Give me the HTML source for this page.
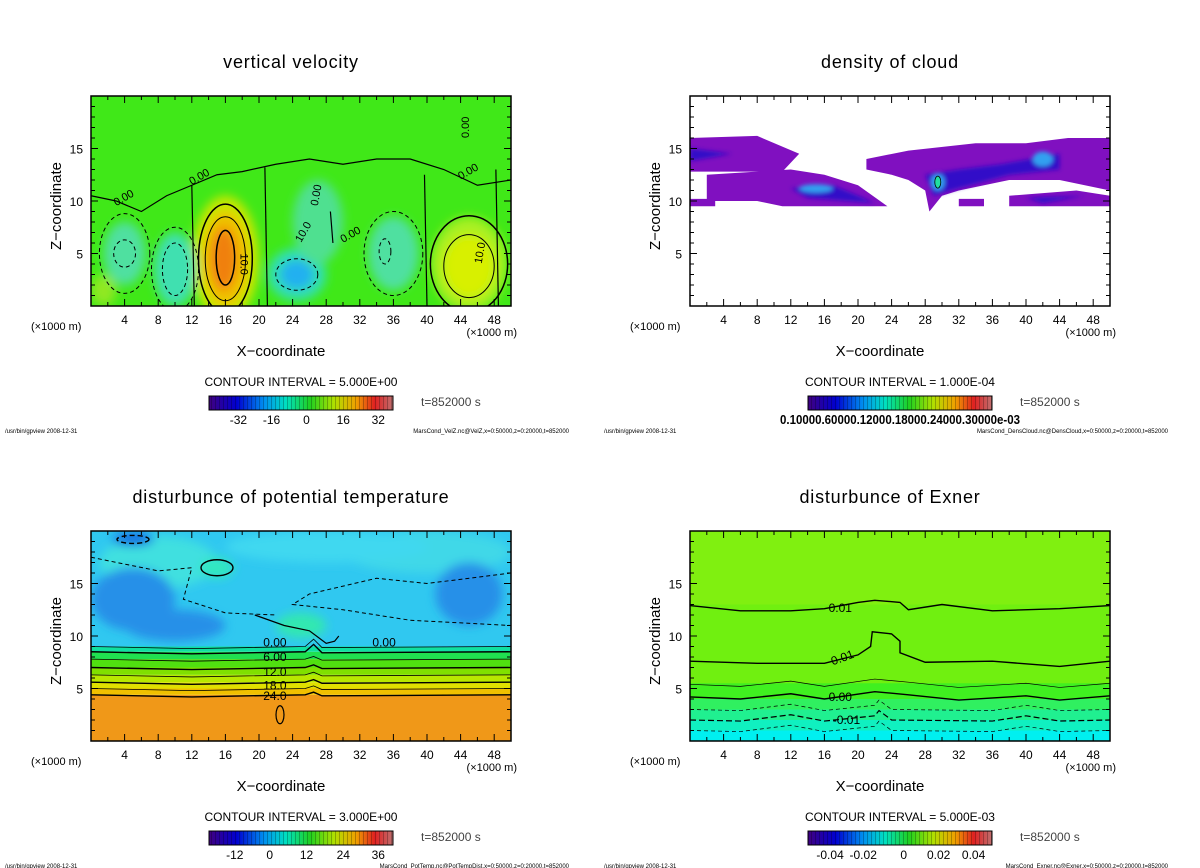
<!DOCTYPE html>
<html><head><meta charset="utf-8">
<style>
body{margin:0;background:#fff;}
svg{display:block;font-family:"Liberation Sans","DejaVu Sans",sans-serif;}
</style></head>
<body>
<svg id="s" width="1200" height="868" viewBox="0 0 1200 868">
<defs>
<filter id="bl" x="-30%" y="-30%" width="160%" height="160%"><feGaussianBlur stdDeviation="5"/></filter>
<filter id="bs" x="-30%" y="-30%" width="160%" height="160%"><feGaussianBlur stdDeviation="2"/></filter>
<linearGradient id="cbar" x1="0" x2="1" y1="0" y2="0">
<stop offset="0" stop-color="#400080"/><stop offset="0.15" stop-color="#0000d0"/><stop offset="0.3" stop-color="#0090f0"/><stop offset="0.42" stop-color="#00e0c0"/><stop offset="0.55" stop-color="#20d020"/><stop offset="0.68" stop-color="#b0e000"/><stop offset="0.8" stop-color="#f0a000"/><stop offset="0.9" stop-color="#e02020"/><stop offset="1" stop-color="#c07070"/>
</linearGradient>
<pattern id="stripe" width="4" height="14" patternUnits="userSpaceOnUse"><rect x="3" width="1" height="14" fill="rgba(0,0,0,0.25)"/></pattern>
</defs>
</svg>
<script>
// ---- data ----
const xTicks=[4,8,12,16,20,24,28,32,36,40,44,48];
const zTicks=[5,10,15];
const titles=["vertical velocity","density of cloud","disturbunce of potential temperature","disturbunce of Exner"];
const intervals=["5.000E+00","1.000E-04","3.000E+00","5.000E-03"];
const cbLabels=[["-32","-16","0","16","32"],["0.10000.60000.12000.18000.24000.30000e-03"],["-12","0","12","24","36"],["-0.04","-0.02","0","0.02","0.04"]];
const cbPos=[[0.16,0.34,0.53,0.73,0.92],[0.5],[0.14,0.33,0.53,0.73,0.92],[0.12,0.3,0.52,0.71,0.9]];
const files=["MarsCond_VelZ.nc@VelZ,x=0:50000,z=0:20000,t=852000","MarsCond_DensCloud.nc@DensCloud,x=0:50000,z=0:20000,t=852000","MarsCond_PotTemp.nc@PotTempDist,x=0:50000,z=0:20000,t=852000","MarsCond_Exner.nc@Exner,x=0:50000,z=0:20000,t=852000"];
const velBlobs=[[16,4.5,4,6,"#c8e800"],[16,4.5,2.8,4.5,"#f0c000"],[15.8,4.5,1.6,3,"#f08010"],[24.5,3,3.5,2.5,"#30e0b0"],[24.5,3,2,1.4,"#20b0f0"],[45,4,4.5,4.5,"#a8f020"],[45,3.8,3,3,"#d8f000"],[4,5,2.5,3,"#50e0a0"],[10,3.5,2.5,3.5,"#40e0b0"],[36,5,3,3.5,"#50e0a0"],[1.5,1.5,1.5,1.5,"#90e820"],[27,8,3,4,"#50e090"]];
const cloudOuter=[[[0,16],[8,16.2],[13,14.5],[11,12.8],[0,12.8]],[[2,12.5],[12,13],[16,12.5],[20,11.5],[23.5,9.5],[11,9.5],[8,10],[2,10]],[[0,10.2],[3,10.2],[3,9.5],[0,9.5]],[[21,14],[26,14.8],[34,15.5],[40,15.5],[45,16],[50,16],[50,11],[44,12],[38,12],[32,11],[30,10.5],[28.5,9],[28,11],[26,12],[24,12.5],[21,13]],[[38,10.5],[46,11],[50,10.5],[50,9.5],[38,9.5]],[[32,10.2],[35,10.2],[35,9.5],[32,9.5]]];
const cloudInner=[[[12,11.2],[17,11.5],[20,10.5],[22,9.8],[14,10.3]],[[28,12.5],[32,13],[37,13.5],[44,14.5],[44,13],[38,12.5],[31,11],[29,10.5]],[[0,15],[5,14.5],[0,13.8]],[[40,10.3],[47,10.5],[42,9.8]]];
const cloudCore=[[15,11.2,2,0.4],[29.5,11.8,0.8,0.8],[42,14,1.2,0.7]];
const ptBands=[[0,"#f09818"],[4.4,"#f0c000"],[5,"#e0e000"],[5.6,"#b8e800"],[6.3,"#80e000"],[7,"#50e010"],[7.8,"#20e050"],[8.5,"#10e0a0"],[9,"#30c8f0"]];
const ptPatches=[[8,17,7,2.5,"#40e0e0"],[15,16.5,2,1,"#30e8c0"],[40,18,10,2,"#40d8e8"],[28,18.5,12,1.5,"#40d8f0"],[5,13.5,5,3,"#2890e8"],[45,14,4,3,"#2890e8"],[10,11,6,1.5,"#2890e8"],[5,19.2,2.5,0.6,"#1060e0"],[25,11,3,1.2,"#30e8b0"]];
const exBands=[[0,"#00f0f0"],[1,"#10f0c0"],[2,"#20f090"],[3,"#30f060"],[4,"#40f020"],[5.5,"#70f010"],[13,"#80f010"]];
const exLineA=[[0,12.9],[6,12.4],[12,12.4],[16,12.6],[20,13.2],[22,13.4],[25,13.2],[26,12.5],[30,13],[36,12.4],[44,12.6],[50,12.9]];
const exLineB=[[0,7.6],[8,7.4],[16,7.4],[20,8.2],[21.5,9],[21.7,10.4],[24,10.2],[25,9.5],[25,8.4],[28,7.5],[36,7.6],[44,7.1],[50,7.6]];
const exLineC=[[0,4.2],[6,4],[12,4.5],[16,4],[22,4.7],[26,4.4],[32,3.9],[40,4.3],[44,3.9],[50,4.3]];
const exLineD=[[0,2],[6,1.9],[12,2.5],[16,1.9],[22,2.4],[22.5,2.9],[24,2],[36,1.9],[40,2.4],[44,1.9],[50,2]];

const NS="http://www.w3.org/2000/svg";
const svg=document.getElementById('s');
function mk(tag,attrs,parent,name,inter){const e=document.createElementNS(NS,tag);for(const k in attrs)e.setAttribute(k,attrs[k]);


(parent||svg).appendChild(e);return e;}
const panels=[[91,96],[690,96],[91,531],[690,531]];
const W=420,H=210;
panels.forEach((p,i)=>{
 const [L,T]=p;
 const sx=x=>L+x/50*W, sz=z=>T+H-z/20*H;
 const g=mk('g',{},svg,'panel-'+(i+1),false);
 mk('text',{x:L+W/2-10,y:T-28,'font-size':18,'letter-spacing':'0.8','text-anchor':'middle',fill:'#000'},g,'chart-title',false).textContent=titles[i];
 const cid='clip'+i;
 const cp=mk('clipPath',{id:cid},g,'clip',false);mk('rect',{x:L,y:T,width:W,height:H},cp,'clip-rect',false);
 const f=mk('g',{'clip-path':'url(#'+cid+')'},g,'plot-area',false);
 const pts=a=>a.map(q=>sx(q[0])+','+sz(q[1])).join(' ');
 if(i===0){
  mk('rect',{x:L,y:T,width:W,height:H,fill:'#40e818'},f,'background-field',false);
  const bg=mk('g',{filter:'url(#bl)'},f,'velocity-field',false);
  velBlobs.forEach(b=>mk('ellipse',{cx:sx(b[0]),cy:sz(b[1]),rx:b[2]/50*W,ry:b[3]/20*H,fill:b[4]},bg,'velocity-blob',false));
  const c=mk('g',{fill:'none',stroke:'#000'},f,'contours',false);
  [[16,4.5,3.2,5.2,1.5],[16,4.5,2.4,4,1],[16,4.6,1.1,2.6,1.5],[45,4,4.6,4.6,1.5],[45,3.8,3,3,1]].forEach(b=>mk('ellipse',{cx:sx(b[0]),cy:sz(b[1]),rx:b[2]/50*W,ry:b[3]/20*H,'stroke-width':b[4]},c,'contour-line',false));
  [[4,5,1.3,1.3],[10,3.5,1.5,2.5],[24.5,3,2.5,1.5],[36,5,3.5,4],[35,5.2,0.7,1.2],[4,5,3,3.8],[10,3.5,2.8,4]].forEach(b=>mk('ellipse',{cx:sx(b[0]),cy:sz(b[1]),rx:b[2]/50*W,ry:b[3]/20*H,'stroke-dasharray':'4,3','stroke-width':1},c,'negative-contour',false));
  mk('polyline',{points:pts([[0,10.5],[3,10],[6,9],[9,10.5],[12,11.5],[15,12.5],[18,12.8],[22,13.5],[26,14],[30,13.5],[34,14],[38,14],[42,13],[46,11.5],[50,12]]),'stroke-width':1.2},c,'zero-contour',false);
  [[12.3,0,11.5],[21,0,13.2],[28.8,6,9],[40,0,12.5],[48.5,0,13]].forEach(v=>mk('line',{x1:sx(v[0]),y1:sz(v[1]),x2:sx(v[0]-0.3),y2:sz(v[2]),'stroke-width':1.2},c,'zero-contour',false));
  [["10.0",17.8,5,90],["10.0",46.5,4,-80],["0.00",12,11.5,-30],["0.00",3,9.5,-30],["0.00",30,6,-30],["0.00",27,9.5,-80],["10.0",25,6,-60],["0.00",44,12,-30],["0.00",45,16,-90]].forEach(t=>mk('text',{x:sx(t[1]),y:sz(t[2]),'font-size':11,transform:`rotate(${t[3]} ${sx(t[1])} ${sz(t[2])})`},f,'contour-label',false).textContent=t[0]);
 } else if(i===1){
  mk('rect',{x:L,y:T,width:W,height:H,fill:'#fff'},f,'background-field',false);
  cloudOuter.forEach(a=>mk('polygon',{points:pts(a),fill:'#8010c0'},f,'cloud-region',false));
  const ig=mk('g',{filter:'url(#bs)'},f,'cloud-dense',false);
  cloudInner.forEach(a=>mk('polygon',{points:pts(a),fill:'#3010c8'},ig,'cloud-dense-region',false));
  cloudCore.forEach(b=>mk('ellipse',{cx:sx(b[0]),cy:sz(b[1]),rx:b[2]/50*W,ry:b[3]/20*H,fill:'#30a0f0'},ig,'cloud-core',false));
  mk('ellipse',{cx:sx(29.5),cy:sz(11.8),rx:3,ry:6,fill:'#20e0a0',stroke:'#000','stroke-width':0.8},f,'cloud-peak',false);
 } else if(i===2){
  ptBands.forEach((b,k)=>{const top=k+1<ptBands.length?ptBands[k+1][0]:20;mk('rect',{x:L,y:sz(top),width:W,height:sz(b[0])-sz(top),fill:b[1]},f,'temperature-band',false);});
  const pg=mk('g',{filter:'url(#bl)'},f,'temperature-patches',false);
  ptPatches.forEach(b=>mk('ellipse',{cx:sx(b[0]),cy:sz(b[1]),rx:b[2]/50*W,ry:b[3]/20*H,fill:b[4]},pg,'temperature-patch',false));
  const c=mk('g',{fill:'none',stroke:'#000'},f,'contours',false);
  ptBands.slice(1).forEach((b,k)=>mk('polyline',{points:pts([[0,b[0]],[12,b[0]-0.2],[25.5,b[0]],[26.5,b[0]+(k>5?0.7:0.25)],[27.5,b[0]-0.1],[50,b[0]]]),'stroke-width':k%2?0.8:1.4},c,'contour-line',false));
  mk('polyline',{points:pts([[19.5,12],[23,11],[26,10.5],[28,9.3],[29,9.5],[29.5,10]]),'stroke-width':1.2},c,'contour-line',false);
  mk('ellipse',{cx:sx(15),cy:sz(16.5),rx:16,ry:8,'stroke-width':1.4},c,'contour-line',false);
  mk('ellipse',{cx:sx(5),cy:sz(19.2),rx:16,ry:4,'stroke-dasharray':'5,3','stroke-width':1.4},c,'negative-contour',false);
  mk('ellipse',{cx:sx(22.5),cy:sz(2.5),rx:4,ry:9,'stroke-width':1.2},c,'contour-line',false);
  mk('polyline',{points:pts([[0,17.5],[8,16.2],[12,16.5],[11,13.5],[16,12.2],[22,12]]),'stroke-dasharray':'4,3'},c,'negative-contour',false);
  mk('polyline',{points:pts([[50,16],[40,15],[34,15.5],[26,14],[24,13],[30,12.5],[38,11.5],[50,11]]),'stroke-dasharray':'4,3'},c,'negative-contour',false);
  [["0.00",20.5,9],["6.00",20.5,7.6],["12.0",20.5,6.2],["18.0",20.5,4.9],["24.0",20.5,3.9],["0.00",33.5,9]].forEach(t=>mk('text',{x:sx(t[1]),y:sz(t[2]),'font-size':12,fill:'#000',stroke:'none'},f,'contour-label',false).textContent=t[0]);
 } else {
  exBands.forEach((b,k)=>{const top=k+1<exBands.length?exBands[k+1][0]:20;mk('rect',{x:L,y:sz(top)-1,width:W,height:sz(b[0])-sz(top)+1,fill:b[1]},f,'exner-band',false);});
  const c=mk('g',{fill:'none',stroke:'#000'},f,'contours',false);
  [exLineA,exLineB,exLineC].forEach(a=>mk('polyline',{points:pts(a),'stroke-width':1.4},c,'contour-line',false));
  mk('polyline',{points:pts(exLineC.map(q=>[q[0],q[1]+1.2])),'stroke-width':0.7},c,'contour-line',false);
  mk('polyline',{points:pts(exLineD),'stroke-width':1.2,'stroke-dasharray':'6,3'},c,'negative-contour',false);
  [1,-1].forEach(d=>mk('polyline',{points:pts(exLineD.map(q=>[q[0],q[1]+d])),'stroke-width':0.7,'stroke-dasharray':'4,3'},c,'negative-contour',false));
  [["0.01",16.5,12.3,0],["0.01",17,7.2,-20],["0.00",16.5,3.8,0],["-0.01",17,1.6,0]].forEach(t=>mk('text',{x:sx(t[1]),y:sz(t[2]),'font-size':12,fill:'#000',transform:`rotate(${t[3]} ${sx(t[1])} ${sz(t[2])})`},f,'contour-label',false).textContent=t[0]);
 }
 mk('rect',{x:L,y:T,width:W,height:H,fill:'none',stroke:'#000','stroke-width':1.5},g,'plot-frame',false);
 const ax=mk('g',{stroke:'#000','stroke-width':1},g,'axes',false);
 for(let x=2;x<50;x+=2){const len=x%4===0?7:4;mk('line',{x1:sx(x),y1:T+H,x2:sx(x),y2:T+H-len},ax,'x-tick',false);mk('line',{x1:sx(x),y1:T,x2:sx(x),y2:T+len},ax,'x-tick',false);}
 for(let z=1;z<20;z++){const len=z%5===0?7:4;mk('line',{x1:L,y1:sz(z),x2:L+len,y2:sz(z)},ax,'z-tick',false);mk('line',{x1:L+W,y1:sz(z),x2:L+W-len,y2:sz(z)},ax,'z-tick',false);}
 xTicks.forEach(x=>mk('text',{x:sx(x),y:T+H+18,'font-size':12,'text-anchor':'middle'},g,'x-tick-label',false).textContent=x);
 zTicks.forEach(z=>mk('text',{x:L-8,y:sz(z)+5,'font-size':12,'text-anchor':'end'},g,'z-tick-label',false).textContent=z);
 mk('text',{x:L-60,y:T+H+24,'font-size':11},g,'x-unit',false).textContent='(×1000 m)';
 mk('text',{x:L+W+6,y:T+H+30,'font-size':11,'text-anchor':'end'},g,'x-unit-right',false).textContent='(×1000 m)';
 mk('text',{x:L+W/2-20,y:T+H+50,'font-size':15,'text-anchor':'middle'},g,'x-axis-title',false).textContent='X−coordinate';
 mk('text',{x:L-30,y:T+H/2+5,'font-size':15,'text-anchor':'middle',transform:`rotate(-90 ${L-30} ${T+H/2+5})`},g,'z-axis-title',false).textContent='Z−coordinate';
 mk('text',{x:L+210,y:T+H+80,'font-size':12,'text-anchor':'middle'},g,'contour-interval',false).textContent='CONTOUR INTERVAL = '+intervals[i];
 const cbx=L+118,cby=T+H+90,cbw=184;
 mk('rect',{x:cbx,y:cby,width:cbw,height:14,fill:'url(#cbar)',stroke:'#000'},g,'colorbar',false);
 mk('rect',{x:cbx,y:cby,width:cbw,height:14,fill:'url(#stripe)'},g,'colorbar-stripes',false);
 cbLabels[i].forEach((s,k)=>mk('text',{x:cbx+cbPos[i][k]*cbw,y:cby+28,'font-size':i===1?13:12,'font-weight':i===1?'bold':'normal','text-anchor':'middle',textLength:i===1?240:'','lengthAdjust':'spacingAndGlyphs'},g,'colorbar-label',false).textContent=s);
 mk('text',{x:L+330,y:cby+10,'font-size':12,fill:'#444'},g,'time-label',false).textContent='t=852000 s';
 mk('text',{x:L-86,y:T+H+127,'font-size':6},g,'program-path',false).textContent='/usr/bin/gpview  2008-12-31';
 mk('text',{x:L+478,y:T+H+127,'font-size':6,'text-anchor':'end'},g,'file-info',false).textContent=files[i];
});
</script>
</body></html>
